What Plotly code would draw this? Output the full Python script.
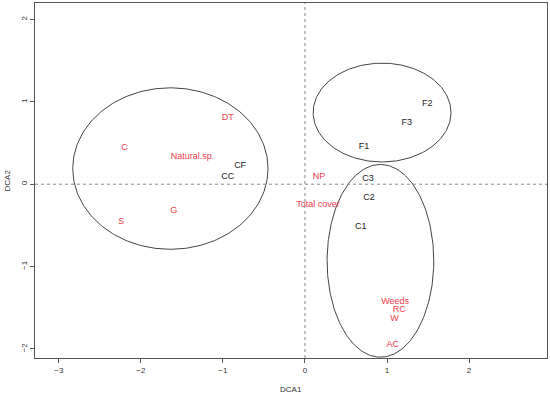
import numpy as np
import plotly.graph_objects as go

# Species / variables (red)
red_labels = ["DT", "C", "Natural.sp.", "S", "G", "NP", "Total cover", "Weeds", "RC", "W", "AC"]
red_x = [-0.94, -2.2, -1.37, -2.24, -1.6, 0.17, 0.16, 1.1, 1.15, 1.09, 1.07]
red_y = [0.81, 0.44, 0.33, -0.45, -0.32, 0.09, -0.25, -1.43, -1.53, -1.63, -1.95]

# Sites (black)
blk_labels = ["CF", "CC", "F2", "F3", "F1", "C3", "C2", "C1"]
blk_x = [-0.79, -0.94, 1.49, 1.24, 0.72, 0.77, 0.78, 0.68]
blk_y = [0.22, 0.09, 0.98, 0.75, 0.45, 0.07, -0.16, -0.52]

# Group ellipses: centre and semi-axes
ell_cx = [-1.64, 0.94, 0.92]
ell_cy = [0.19, 0.87, -0.93]
ell_rx = [1.19, 0.84, 0.65]
ell_ry = [0.98, 0.60, 1.17]

x_ticks = [-3, -2, -1, 0, 1, 2]
y_ticks = [-2, -1, 0, 1, 2]

FONT = "Liberation Sans, Arial"

fig = go.Figure()

t = np.linspace(0, 2 * np.pi, 240)
for cx, cy, rx, ry in zip(ell_cx, ell_cy, ell_rx, ell_ry):
    fig.add_trace(go.Scatter(x=cx + rx * np.cos(t), y=cy + ry * np.sin(t), mode="lines",
                             line=dict(color="#444444", width=1), hoverinfo="skip", showlegend=False))

fig.add_trace(go.Scatter(x=red_x, y=red_y, text=red_labels, mode="text",
                         textfont=dict(color="#ee3b4b", size=9, family=FONT),
                         showlegend=False))
fig.add_trace(go.Scatter(x=blk_x, y=blk_y, text=blk_labels, mode="text",
                         textfont=dict(color="#222222", size=9, family=FONT),
                         showlegend=False))

fig.add_hline(y=0, line=dict(color="#888888", width=1, dash="dot"))
fig.add_vline(x=0, line=dict(color="#888888", width=1, dash="dot"))

axis_common = dict(showgrid=False, zeroline=False, showline=True, linecolor="#555555", linewidth=1,
                   mirror=True, ticks="outside", ticklen=4, tickcolor="#555555", automargin=False,
                   tickfont=dict(size=8, color="#333333", family=FONT))

fig.update_layout(
    width=550, height=395,
    margin=dict(l=35, r=3, t=3, b=37, autoexpand=False),
    plot_bgcolor="white", paper_bgcolor="white",
    xaxis=dict(range=[-3.29, 2.95], tickvals=x_ticks, **axis_common),
    yaxis=dict(range=[-2.11, 2.2], tickvals=y_ticks, tickangle=-90, **axis_common),
    annotations=[
        dict(text="DCA1", xref="paper", yref="paper", x=0.5, y=0, yshift=-31, yanchor="middle",
             showarrow=False, font=dict(size=8, color="#333333", family=FONT)),
        dict(text="DCA2", xref="paper", yref="paper", x=0, y=0.5, xshift=-28, xanchor="center",
             textangle=-90, showarrow=False, font=dict(size=8, color="#333333", family=FONT)),
    ],
)

fig.write_html("out.html", config={"displayModeBar": False},
               post_script="document.body.style.margin='0';document.body.style.overflow='hidden';")
